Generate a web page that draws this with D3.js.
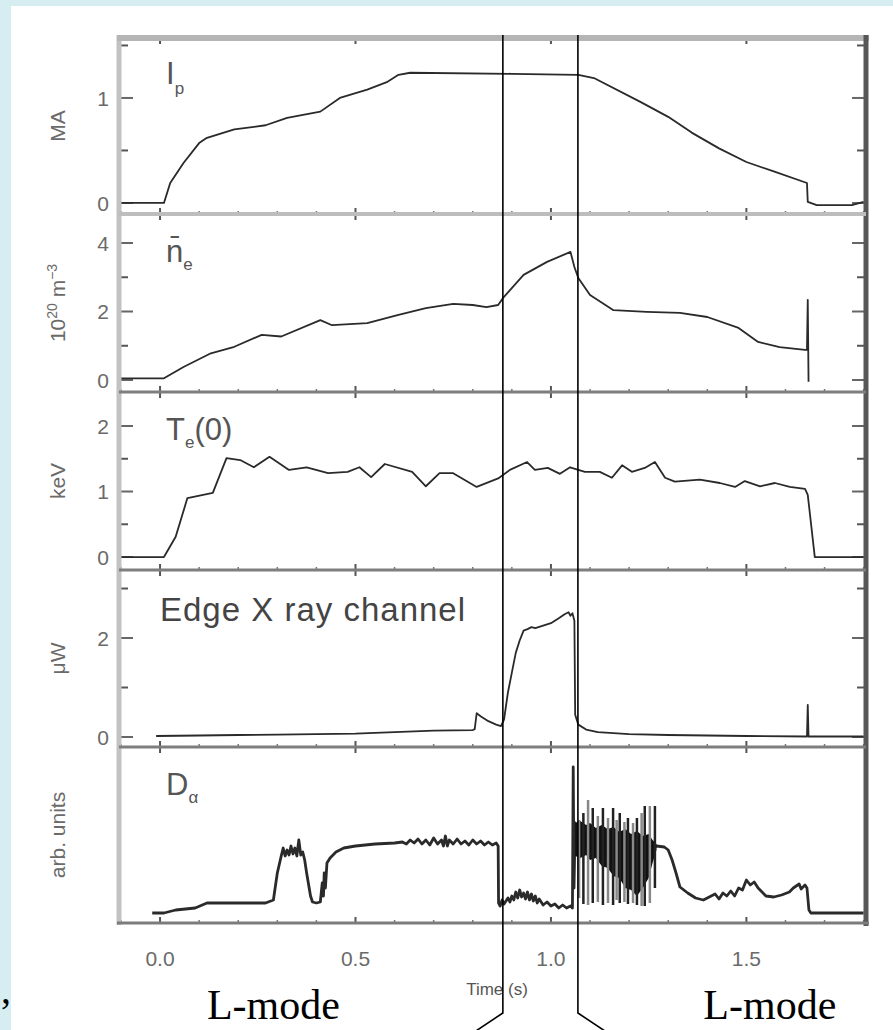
<!DOCTYPE html>
<html>
<head>
<meta charset="utf-8">
<script src="https://cdn.jsdelivr.net/npm/d3@7/dist/d3.min.js"></script>
<style>
body { margin: 0; background: #d6eef1; }
svg { display: block; }
</style>
</head>
<body>
<script>
// time axis
var timeTicks = [0, 0.5, 1.0, 1.5];
var timeTickLabels = ["0.0", "0.5", "1.0", "1.5"];
var minorTimeTicks = [-0.1, 0.1, 0.2, 0.3, 0.4, 0.6, 0.7, 0.8, 0.9, 1.1, 1.2, 1.3, 1.4, 1.6, 1.7, 1.8];
// L-H and H-L transition times (s)
var transitions = [0.877, 1.069];

// plasma current (MA)
var ipData = [[-0.1, 0], [0.01, 0], [0.026, 0.19], [0.06, 0.38], [0.10, 0.57], [0.12, 0.62],
    [0.19, 0.70], [0.27, 0.74], [0.325, 0.81], [0.41, 0.87], [0.46, 1.0], [0.53, 1.08],
    [0.58, 1.15], [0.61, 1.22], [0.64, 1.24], [0.9, 1.23], [1.07, 1.22], [1.11, 1.19],
    [1.23, 0.96], [1.30, 0.82], [1.36, 0.67], [1.43, 0.52], [1.50, 0.39], [1.57, 0.30],
    [1.655, 0.19], [1.657, 0.01], [1.68, -0.02], [1.77, -0.02], [1.80, 0.01]];

// line averaged density (10^20 m^-3)
var neData = [[-0.1, 0.05], [0.01, 0.05], [0.06, 0.38], [0.13, 0.78], [0.19, 0.97], [0.26, 1.32],
    [0.31, 1.27], [0.41, 1.75], [0.44, 1.6], [0.53, 1.66], [0.61, 1.9], [0.68, 2.1], [0.75, 2.22],
    [0.80, 2.19], [0.835, 2.13], [0.865, 2.19], [0.877, 2.39], [0.93, 3.07], [0.99, 3.45],
    [1.05, 3.74], [1.06, 3.3], [1.07, 2.98], [1.10, 2.48], [1.16, 2.04], [1.245, 1.99],
    [1.33, 1.96], [1.40, 1.84], [1.48, 1.52], [1.53, 1.11], [1.585, 0.96], [1.65, 0.88],
    [1.655, 0.88], [1.657, 2.34], [1.659, -0.05]];

// central electron temperature (keV)
var teData = [[-0.1, 0], [0.01, 0], [0.04, 0.31], [0.07, 0.9], [0.135, 0.98], [0.17, 1.51],
    [0.205, 1.48], [0.24, 1.37], [0.28, 1.53], [0.33, 1.33], [0.375, 1.37], [0.43, 1.28],
    [0.48, 1.30], [0.51, 1.37], [0.54, 1.22], [0.575, 1.42], [0.645, 1.30], [0.68, 1.08],
    [0.715, 1.28], [0.75, 1.28], [0.81, 1.07], [0.865, 1.2], [0.895, 1.33], [0.939, 1.45],
    [0.959, 1.33], [0.992, 1.36], [1.023, 1.27], [1.049, 1.37], [1.087, 1.30], [1.125, 1.30],
    [1.156, 1.21], [1.182, 1.40], [1.207, 1.30], [1.240, 1.36], [1.266, 1.45], [1.292, 1.21],
    [1.317, 1.15], [1.381, 1.18], [1.432, 1.13], [1.471, 1.07], [1.496, 1.16], [1.535, 1.08],
    [1.573, 1.13], [1.611, 1.07], [1.650, 1.04], [1.657, 0.95], [1.675, 0], [1.80, 0]];

// edge soft X ray channel (uW)
var sxrData = [[-0.01, 0.02], [0.1, 0.03], [0.2, 0.04], [0.3, 0.05], [0.4, 0.06], [0.5, 0.07],
    [0.6, 0.10], [0.7, 0.13], [0.8, 0.14], [0.805, 0.16], [0.81, 0.48], [0.82, 0.42], [0.84, 0.32],
    [0.86, 0.25], [0.872, 0.22], [0.88, 0.35], [0.89, 0.9], [0.90, 1.3], [0.91, 1.7], [0.92, 1.95],
    [0.93, 2.15], [0.94, 2.18], [0.95, 2.22], [0.96, 2.2], [0.98, 2.25], [1.00, 2.3], [1.02, 2.4],
    [1.035, 2.48], [1.045, 2.52], [1.05, 2.45], [1.055, 2.5], [1.06, 2.35], [1.062, 0.45],
    [1.07, 0.25], [1.09, 0.15], [1.12, 0.10], [1.2, 0.06], [1.3, 0.04], [1.5, 0.02], [1.655, 0.01],
    [1.657, 0.65], [1.659, 0.01], [1.80, 0.01]];

// D-alpha (arb. units), main trace
var daData = [[-0.02, 0.05], [0.01, 0.05], [0.04, 0.08], [0.09, 0.10], [0.12, 0.15], [0.27, 0.15],
    [0.29, 0.18], [0.30, 0.45], [0.31, 0.62], [0.315, 0.70], [0.32, 0.62], [0.325, 0.68], [0.33, 0.63],
    [0.335, 0.72], [0.34, 0.64], [0.345, 0.70], [0.35, 0.62], [0.355, 0.78], [0.36, 0.63], [0.365, 0.66],
    [0.37, 0.58], [0.375, 0.45], [0.385, 0.22], [0.39, 0.16], [0.40, 0.15], [0.41, 0.16], [0.415, 0.35],
    [0.418, 0.22], [0.42, 0.45], [0.423, 0.30], [0.427, 0.55], [0.435, 0.60], [0.45, 0.66], [0.47, 0.70],
    [0.50, 0.72], [0.55, 0.74], [0.60, 0.75], [0.62, 0.76], [0.63, 0.74], [0.64, 0.78], [0.65, 0.75],
    [0.66, 0.79], [0.67, 0.74], [0.68, 0.78], [0.69, 0.73], [0.70, 0.80], [0.71, 0.74], [0.72, 0.78],
    [0.725, 0.72], [0.73, 0.82], [0.735, 0.72], [0.74, 0.78], [0.75, 0.74], [0.76, 0.79], [0.77, 0.74],
    [0.78, 0.77], [0.79, 0.73], [0.80, 0.78], [0.81, 0.74], [0.82, 0.77], [0.83, 0.73], [0.84, 0.76],
    [0.85, 0.73], [0.86, 0.75], [0.865, 0.72], [0.866, 0.15], [0.87, 0.12], [0.875, 0.18], [0.88, 0.14],
    [0.89, 0.20], [0.895, 0.16], [0.90, 0.22], [0.905, 0.18], [0.91, 0.26], [0.915, 0.20], [0.92, 0.28],
    [0.925, 0.21], [0.93, 0.25], [0.935, 0.19], [0.94, 0.26], [0.945, 0.18], [0.95, 0.24], [0.955, 0.17],
    [0.96, 0.22], [0.965, 0.15], [0.97, 0.19], [0.98, 0.13], [0.99, 0.16], [1.00, 0.12], [1.01, 0.14],
    [1.02, 0.10], [1.03, 0.13], [1.04, 0.10], [1.05, 0.12], [1.055, 0.10], [1.057, 1.51], [1.059, 0.30],
    [1.062, 0.95], [1.065, 0.70], [1.27, 0.72], [1.29, 0.71], [1.30, 0.68], [1.31, 0.58], [1.32, 0.45],
    [1.33, 0.31], [1.35, 0.25], [1.37, 0.20], [1.39, 0.18], [1.40, 0.20], [1.42, 0.24], [1.43, 0.19],
    [1.44, 0.25], [1.45, 0.22], [1.46, 0.27], [1.47, 0.22], [1.48, 0.30], [1.49, 0.28], [1.50, 0.38],
    [1.51, 0.33], [1.52, 0.36], [1.53, 0.30], [1.55, 0.22], [1.57, 0.21], [1.59, 0.23], [1.61, 0.26],
    [1.62, 0.30], [1.635, 0.34], [1.64, 0.29], [1.65, 0.33], [1.655, 0.30], [1.66, 0.08], [1.665, 0.05],
    [1.80, 0.05]];
// D-alpha ELM band (t, low, high)
var daBand = [[1.062, 0.62, 0.95], [1.075, 0.60, 0.97], [1.09, 0.63, 0.93], [1.10, 0.58, 0.95],
    [1.115, 0.60, 0.90], [1.13, 0.52, 0.93], [1.145, 0.50, 0.89], [1.16, 0.42, 0.91], [1.175, 0.40, 0.86],
    [1.19, 0.30, 0.89], [1.205, 0.28, 0.84], [1.22, 0.22, 0.87], [1.235, 0.30, 0.82], [1.25, 0.40, 0.84],
    [1.26, 0.55, 0.78], [1.27, 0.68, 0.74]];
// D-alpha ELM spikes (t, low, high)
var daSpikes = [[1.072, 0.20, 0.98], [1.083, 0.14, 1.05], [1.095, 0.13, 1.18], [1.107, 0.15, 1.10],
    [1.120, 0.16, 1.02], [1.133, 0.13, 1.10], [1.146, 0.15, 1.00], [1.159, 0.13, 1.10],
    [1.168, 0.18, 0.98], [1.176, 0.15, 1.05], [1.188, 0.16, 0.96], [1.197, 0.14, 1.00],
    [1.21, 0.15, 0.95], [1.22, 0.13, 1.00], [1.232, 0.12, 1.05], [1.24, 0.12, 1.12],
    [1.253, 0.15, 1.12], [1.266, 0.30, 1.12]];

// y axes: domains, tick values and labels
var ipDomain = [-0.105, 1.571], ipTicks = [0, 1], ipMinor = [0.5, 1.5];
var neDomain = [-0.35, 4.847], neTicks = [0, 2, 4], neMinor = [1, 3];
var teDomain = [-0.198, 2.519], teTicks = [0, 1, 2], teMinor = [0.5, 1.5];
var sxrDomain = [-0.202, 3.374], sxrTicks = [0, 2], sxrMinor = [1, 3];
var daDomain = [-0.05, 1.71], daTicks = [], daMinor = [];

var width = 893, height = 1030;
var left = 119, right = 866;
var edges = [38, 214, 392, 570, 747, 923];

var panels = [
    { data: ipData, domain: ipDomain, ticks: ipTicks, minor: ipMinor, unit: "MA" },
    { data: neData, domain: neDomain, ticks: neTicks, minor: neMinor, unit: "ne" },
    { data: teData, domain: teDomain, ticks: teTicks, minor: teMinor, unit: "keV" },
    { data: sxrData, domain: sxrDomain, ticks: sxrTicks, minor: sxrMinor, unit: "\u03bcW" },
    { data: daData, domain: daDomain, ticks: daTicks, minor: daMinor, unit: "arb. units" }
];

var svg = d3.select("body").append("svg")
    .attr("width", width)
    .attr("height", height);

svg.append("rect")
    .attr("width", width).attr("height", height)
    .attr("fill", "#d6eef1");
svg.append("rect")
    .attr("x", 11).attr("y", 6)
    .attr("width", width - 11).attr("height", height - 6)
    .attr("fill", "#ffffff");

var x = d3.scaleLinear().domain([-0.105, 1.806]).range([left, right]);

var line = d3.line()
    .x(function(d) { return x(d[0]); });

panels.forEach(function(p, i) {
    var top = edges[i], bottom = edges[i + 1];
    var y = d3.scaleLinear().domain(p.domain).range([bottom, top]);
    p.y = y;
    var g = svg.append("g");

    // time ticks on top and bottom of each panel
    g.selectAll(".mt").data(timeTicks).enter().append("line")
        .attr("x1", function(d) { return x(d); }).attr("x2", function(d) { return x(d); })
        .attr("y1", top).attr("y2", top + 6)
        .attr("stroke", "#555").attr("stroke-width", 2);
    g.selectAll(".mb").data(timeTicks).enter().append("line")
        .attr("x1", function(d) { return x(d); }).attr("x2", function(d) { return x(d); })
        .attr("y1", bottom).attr("y2", bottom - 6)
        .attr("stroke", "#555").attr("stroke-width", 2);
    g.selectAll(".nt").data(minorTimeTicks).enter().append("line")
        .attr("x1", function(d) { return x(d); }).attr("x2", function(d) { return x(d); })
        .attr("y1", bottom).attr("y2", bottom - 3)
        .attr("stroke", "#777").attr("stroke-width", 1.5);

    // value ticks on both sides
    [[left, 1], [right, -1]].forEach(function(s) {
        g.selectAll(null).data(p.ticks).enter().append("line")
            .attr("x1", s[0]).attr("x2", s[0] + s[1] * 14)
            .attr("y1", function(d) { return y(d); }).attr("y2", function(d) { return y(d); })
            .attr("stroke", "#666").attr("stroke-width", 2);
        g.selectAll(null).data(p.minor).enter().append("line")
            .attr("x1", s[0]).attr("x2", s[0] + s[1] * 9)
            .attr("y1", function(d) { return y(d); }).attr("y2", function(d) { return y(d); })
            .attr("stroke", "#555").attr("stroke-width", 2);
    });

    g.selectAll(".yl").data(p.ticks).enter().append("text")
        .attr("x", left - 10)
        .attr("y", function(d) { return y(d); })
        .attr("dy", "0.36em")
        .attr("text-anchor", "end")
        .attr("font-family", "Liberation Sans, Arial, sans-serif")
        .attr("font-size", 21)
        .attr("fill", "#6a6a6a")
        .text(function(d) { return d; });

    // trace
    g.append("path")
        .datum(p.data)
        .attr("d", line.y(function(d) { return y(d[1]); }))
        .attr("fill", "none")
        .attr("stroke", "#2a2a2a")
        .attr("stroke-width", i == 4 ? 2.8 : 1.8)
        .attr("stroke-linejoin", "round");

    // unit label
    var unit = g.append("text")
        .attr("transform", "translate(65," + ((top + bottom) / 2) + ") rotate(-90)")
        .attr("text-anchor", "middle")
        .attr("font-family", "Liberation Sans, Arial, sans-serif")
        .attr("font-size", 21)
        .attr("fill", "#6a6a6a");
    if (p.unit == "ne") {
        unit.append("tspan").text("10");
        unit.append("tspan").attr("font-size", 14).attr("dy", -8).text("20");
        unit.append("tspan").attr("dy", 8).text(" m");
        unit.append("tspan").attr("font-size", 14).attr("dy", -8).text("\u22123");
    } else {
        unit.text(p.unit);
    }
});

// D-alpha ELM band and spikes
var yd = panels[4].y;
svg.append("path")
    .datum(daBand)
    .attr("d", d3.area()
        .x(function(d) { return x(d[0]); })
        .y0(function(d) { return yd(d[1]); })
        .y1(function(d) { return yd(d[2]); }))
    .attr("fill", "#111");
svg.selectAll(".spike").data(daSpikes).enter().append("line")
    .attr("x1", function(d) { return x(d[0]); }).attr("x2", function(d) { return x(d[0]); })
    .attr("y1", function(d) { return yd(d[1]); }).attr("y2", function(d) { return yd(d[2]); })
    .attr("stroke", function(d, i) { return i % 2 ? "#222" : "#888"; })
    .attr("stroke-width", 2.5);

// frame
svg.append("line").attr("x1", left).attr("x2", left).attr("y1", 35).attr("y2", 925)
    .attr("stroke", "#c2c2c2").attr("stroke-width", 5);
svg.append("line").attr("x1", left - 2).attr("x2", right + 3).attr("y1", 38).attr("y2", 38)
    .attr("stroke", "#b5b5b5").attr("stroke-width", 6);
svg.append("line").attr("x1", right).attr("x2", right).attr("y1", 35).attr("y2", 926)
    .attr("stroke", "#565656").attr("stroke-width", 5);
svg.append("line").attr("x1", left - 2).attr("x2", right + 3).attr("y1", 923).attr("y2", 923)
    .attr("stroke", "#7c7c7c").attr("stroke-width", 3);
svg.selectAll(".div").data(edges.slice(1, 5)).enter().append("line")
    .attr("x1", left).attr("x2", right)
    .attr("y1", function(d) { return d; }).attr("y2", function(d) { return d; })
    .attr("stroke", function(d, i) { return i == 0 ? "#bdbdbd" : "#7e7e7e"; })
    .attr("stroke-width", function(d, i) { return i == 0 ? 4 : 3; });

// panel names
var nameFont = "Liberation Sans, Arial, sans-serif";
var ip = svg.append("text").attr("x", 166).attr("y", 84)
    .attr("font-family", nameFont).attr("font-size", 31).attr("fill", "#555");
ip.append("tspan").text("I");
ip.append("tspan").attr("font-size", 17).attr("dy", 10).text("p");

var ne = svg.append("text").attr("x", 166).attr("y", 262)
    .attr("font-family", nameFont).attr("font-size", 31).attr("fill", "#555");
ne.append("tspan").text("n\u0304");
ne.append("tspan").attr("font-size", 17).attr("dy", 8).text("e");

var te = svg.append("text").attr("x", 166).attr("y", 440)
    .attr("font-family", nameFont).attr("font-size", 31).attr("fill", "#555");
te.append("tspan").text("T");
te.append("tspan").attr("font-size", 17).attr("dy", 8).text("e");
te.append("tspan").attr("dy", -8).text("(0)");

svg.append("text").attr("x", 160).attr("y", 621)
    .attr("font-family", nameFont).attr("font-size", 33).attr("fill", "#444")
    .attr("letter-spacing", 1)
    .text("Edge X ray channel");

var da = svg.append("text").attr("x", 166).attr("y", 795)
    .attr("font-family", nameFont).attr("font-size", 31).attr("fill", "#555");
da.append("tspan").text("D");
da.append("tspan").attr("font-size", 17).attr("dy", 8).text("\u03b1");

// time labels
svg.selectAll(".xl").data(timeTicks).enter().append("text")
    .attr("x", function(d) { return x(d); })
    .attr("y", 966)
    .attr("text-anchor", "middle")
    .attr("font-family", nameFont)
    .attr("font-size", 21)
    .attr("fill", "#6a6a6a")
    .text(function(d, i) { return timeTickLabels[i]; });

svg.append("text").attr("x", 497).attr("y", 995)
    .attr("text-anchor", "middle")
    .attr("font-family", nameFont).attr("font-size", 17).attr("fill", "#555")
    .text("Time (s)");

// transition markers with bracket ends
svg.selectAll(".tr").data(transitions).enter().append("path")
    .attr("d", function(d, i) {
        var xx = x(d), dx = i == 0 ? -27 : 27;
        return "M" + xx + ",35V1013L" + (xx + dx) + ",1031";
    })
    .attr("fill", "none")
    .attr("stroke", "#000")
    .attr("stroke-width", 1.6);

// L-mode labels
svg.selectAll(".lm").data([x(0.29), x(1.56)]).enter().append("text")
    .attr("x", function(d) { return d; })
    .attr("y", 1019)
    .attr("text-anchor", "middle")
    .attr("font-family", "Liberation Serif, Times New Roman, serif")
    .attr("font-size", 42)
    .attr("fill", "#000")
    .text("L-mode");

svg.append("text").attr("x", 1).attr("y", 1003)
    .attr("font-family", "Liberation Serif, Times New Roman, serif")
    .attr("font-size", 40)
    .text(",");
</script>
</body>
</html>
